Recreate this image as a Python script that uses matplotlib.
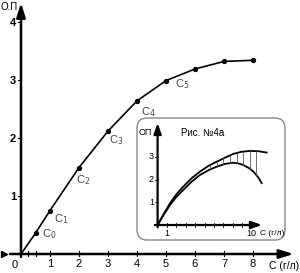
import numpy as np
import matplotlib
matplotlib.use('Agg')
import matplotlib.pyplot as plt
from matplotlib.patches import FancyBboxPatch
from matplotlib.transforms import IdentityTransform

plt.rcParams['font.family'] = ['Liberation Sans', 'DejaVu Sans']

# main curve: concentration vs optical density
conc = [0, 0.5, 1, 2, 3, 4, 5, 6, 7, 8]
od = [0, 0.36, 0.75, 1.49, 2.12, 2.64, 2.99, 3.19, 3.32, 3.34]
point_names = ['C$_0$', 'C$_1$', 'C$_2$', 'C$_3$', 'C$_4$', 'C$_5$']
xticks = [1, 2, 3, 4, 5, 6, 7, 8]
xminor = [0.25, 0.5]
yticks = [1, 2, 3, 4]

# inset "Рис. №4а": two curves
ins_x_up = [0, 0.6, 1.32, 2, 2.73, 3.6, 4.5, 5.4, 6.3, 7.2, 8.05, 8.9, 9.8, 10.7, 11.6]
ins_y_up = [0, 0.45, 0.96, 1.35, 1.69, 2.05, 2.35, 2.6, 2.79, 2.97, 3.13, 3.22, 3.26, 3.25, 3.19]
ins_x_lo = [0, 0.6, 1.32, 2, 2.73, 3.6, 4.5, 5.4, 6.3, 7.2, 8.05, 8.6, 9.1, 9.7, 10.2, 10.7, 11.07]
ins_y_lo = [0, 0.42, 0.88, 1.24, 1.54, 1.9, 2.2, 2.41, 2.57, 2.69, 2.74, 2.71, 2.64, 2.51, 2.35, 2.1, 1.84]
ins_yticks = [1, 2, 3]
ins_xticks = [1, 2, 3, 4, 5, 6, 7, 8, 9, 10]

fig = plt.figure(figsize=(3.0, 2.73), dpi=100)
ax = fig.add_axes([0, 0, 1, 1])
ax.set_xlim(-21 / 29, 279 / 29)
ax.set_ylim(-19 / 58, 254 / 58)
ax.axis('off')

arrow = dict(arrowstyle='-|>,head_length=0.7,head_width=0.22', lw=1.8, color='k',
             mutation_scale=12, shrinkA=0, shrinkB=0)
ax.annotate('', xy=(0, 4.33), xytext=(0, -0.05), arrowprops=arrow)
ax.annotate('', xy=(9.4, 0), xytext=(-0.38, 0), arrowprops=arrow)
ax.plot(-0.6, 0, marker='>', ms=4, color='k')

for t in yticks:
    ax.plot([-0.12, 0], [t, t], color='k', lw=0.8)
    ax.text(-0.17, t - 0.02, str(t), ha='right', va='center', fontsize=8, fontweight='bold')
for t in xticks + xminor:
    ax.plot([t, t], [-0.03, 0.05], color='k', lw=0.8)
for t in xticks:
    ax.text(t, -0.17, str(t), ha='center', va='center', fontsize=8)
ax.text(-0.21, -0.19, '0', ha='center', va='center', fontsize=8)
ax.text(-0.72, 4.26, 'О.П', ha='left', va='center', fontsize=7)
ax.text(9.07, -0.2, 'C (г/л)', ha='center', va='center', fontsize=7.5)

ax.plot(conc, od, color='k', lw=1.2)
ax.plot(conc[1:], od[1:], 'o', color='k', ms=2.8)

offsets = [(7, -1), (4, -9), (-3, -13), (1, -9), (4, -11), (9, -4)]
for name, x, y, off in zip(point_names, conc[1:7], od[1:7], offsets):
    ax.annotate(name, (x, y), xytext=off, textcoords='offset pixels',
                ha='left', va='center', fontsize=8, color='#444')

# inset
ins = fig.add_axes([137 / 300, 33 / 273, 148 / 300, 122 / 273])
ins.set_xlim(-2.19, 13.55)
ins.set_ylim(-0.66, 4.71)
ins.axis('off')
box = FancyBboxPatch((137, 33), 148, 122, boxstyle='round,pad=0,rounding_size=10',
                     transform=IdentityTransform(), fc='white', ec='#888888', lw=1, clip_on=False)
ins.add_patch(box)

arrow2 = dict(arrowstyle='-|>,head_length=0.7,head_width=0.25', lw=1.6, color='k',
              mutation_scale=9, shrinkA=0, shrinkB=0)
ins.annotate('', xy=(0, 4.49), xytext=(0, -0.1), arrowprops=arrow2)
ins.annotate('', xy=(11.1, 0), xytext=(-0.3, 0), arrowprops=arrow2)
for t in ins_yticks:
    ins.plot([-0.25, 0], [t, t], color='k', lw=0.6)
    ins.text(-0.38, t, str(t), ha='right', va='center', fontsize=6.5)
for t in ins_xticks:
    ins.plot([t, t], [-0.07, 0.07], color='k', lw=0.6)
ins.text(1, -0.37, '1', ha='center', va='center', fontsize=6.5)
ins.text(10, -0.37, '10', ha='center', va='center', fontsize=6.5)
ins.text(10.85, -0.37, 'C (г/л)', ha='left', va='center', fontsize=6)
ins.text(-2.0, 4.05, 'ОП', ha='left', va='center', fontsize=6.5)
ins.text(4.83, 4.05, 'Рис. №4а', ha='center', va='center', fontsize=7)

ins.plot(ins_x_up, ins_y_up, color='k', lw=1.3)
ins.plot(ins_x_lo, ins_y_lo, color='k', lw=1.3)
for hx in np.arange(5.6, 11.1, 0.7):
    y1 = np.interp(hx, ins_x_lo, ins_y_lo)
    y2 = np.interp(hx, ins_x_up, ins_y_up)
    ins.plot([hx, hx], [y1, y2], color='#555555', lw=0.6)

fig.savefig('out.png', dpi=100)
